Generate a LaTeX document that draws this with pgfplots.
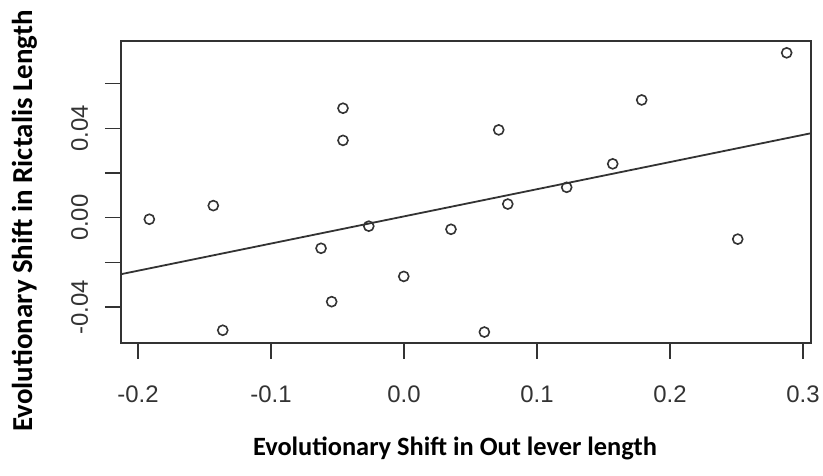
\documentclass[border=0pt]{standalone}
\usepackage{fontspec}
\setmainfont{Liberation Sans}
\newfontfamily\labelfont{Carlito}
\usepackage{pgfplots}
\pgfplotsset{compat=1.18}
\definecolor{ink}{HTML}{333333}
\begin{document}
\begin{tikzpicture}[x=1bp,y=1bp]
\path[use as bounding box] (0,0) rectangle (823,476);
\begin{axis}[
  at={(121bp,133bp)}, anchor=south west,
  width=690bp, height=302bp, scale only axis,
  xmin=-0.2128, xmax=0.306, ymin=-0.0561, ymax=0.0791,
  scaled x ticks=false, scaled y ticks=false,
  axis line style={ink, line width=1.6bp},
  xtick={-0.2,-0.1,0,0.1,0.2,0.3},
  xticklabels={-0.2,-0.1,0.0,0.1,0.2,0.3},
  ytick={-0.04,-0.02,0,0.02,0.04,0.06},
  yticklabels={-0.04,,0.00,,0.04,},
  tick align=outside, major tick length=16bp,
  tick style={ink, line width=1.6bp},
  xtick pos=bottom, ytick pos=left,
  tick label style={font=\fontsize{24}{24}\selectfont, text=ink, inner sep=0pt},
  xticklabel style={anchor=base, yshift=-44bp},
  yticklabel style={xshift=-17bp, rotate=90, anchor=base},
]
\addplot[only marks, mark=o, mark size=5bp, mark options={line width=1.6bp, ink}] coordinates {
(-0.1915,-0.0007)
(-0.1434,0.0054)
(-0.1363,-0.0504)
(-0.0624,-0.0137)
(-0.0544,-0.0376)
(-0.0459,0.0490)
(-0.0459,0.0346)
(-0.0265,-0.0038)
(-0.0002,-0.0263)
(0.0353,-0.0052)
(0.0604,-0.0512)
(0.0712,0.0393)
(0.0780,0.0061)
(0.1223,0.0136)
(0.1569,0.0241)
(0.1787,0.0527)
(0.2509,-0.0096)
(0.2877,0.0738)
};
\addplot[ink, line width=1.8bp, no marks] coordinates {(-0.2128,-0.0253) (0.306,0.0378)};
\end{axis}
\node[rotate=90, anchor=base, inner sep=0pt, font=\labelfont\bfseries\fontsize{29}{29}\selectfont] at (32,255) {Evolutionary Shift in Rictalis Length};
\node[anchor=base, inner sep=0pt, font=\labelfont\bfseries\fontsize{26.5}{26.5}\selectfont] at (455,20) {Evolutionary Shift in Out lever length};
\end{tikzpicture}
\end{document}
